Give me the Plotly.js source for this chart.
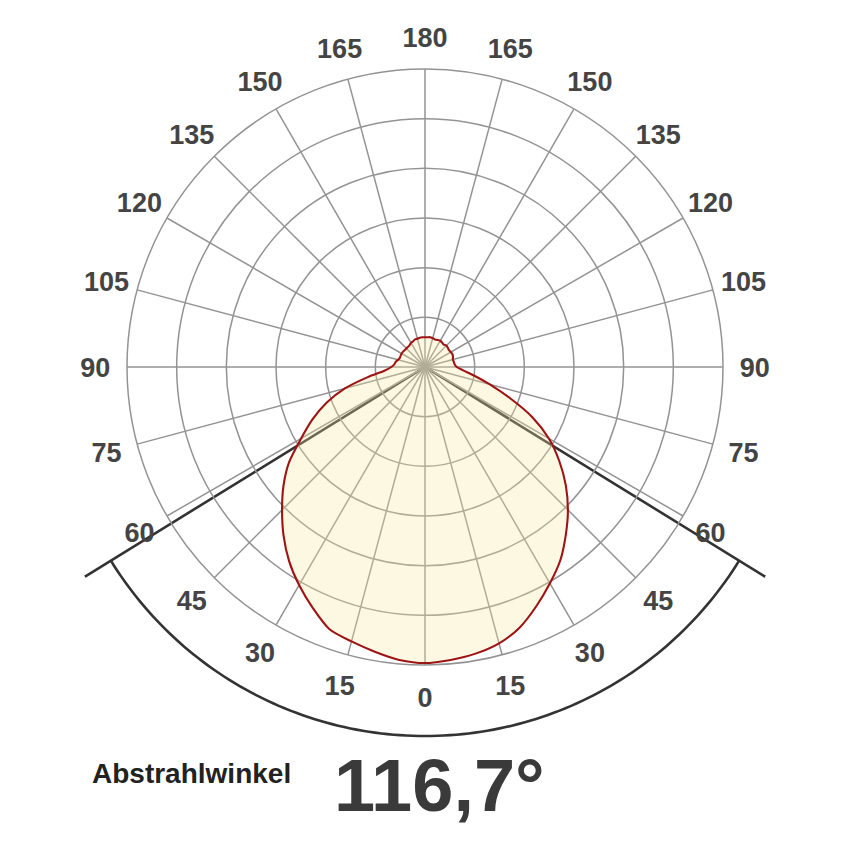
<!DOCTYPE html>
<html>
<head>
<meta charset="utf-8">
<script src="https://cdn.plot.ly/plotly-3.0.1.min.js"></script>
<style>html,body{margin:0;padding:0;background:#fff;}#chart{width:850px;height:850px;}</style>
</head>
<body>
<div id="chart"></div>
<script>
// Luminous intensity curve (angle from nadir, counterclockwise; arbitrary units)
const curveAngles = [0,5,10,15,20,25,30,35,40,45,50,55,60,65,70,75,80,85,90,95,100,105,110,115,120,125,130,135,140,145,150,155,160,165,170,175,180,
  185,190,195,200,205,210,215,220,225,230,235,240,245,250,255,260,265,270,275,280,285,290,295,300,305,310,315,320,325,330,335,340,345,350,355,360];
const curveValues = [596,592,586,576,558,531,503,475,441,407,370,330,288,238,181,135,101,77,64,60,59,58,60,61,60,59,60,61,59,60,61,60,59,60,61,60,60,
  60,60,59,59,57,56,54,53,53,53,54,54,54,54,56,60,62,68,81,117,167,211,250,288,334,372,407,443,477,507,535,562,572,582,592,596];

// Angular tick positions and labels
const tickAngles = [0,15,30,45,60,75,90,105,120,135,150,165,180,195,210,225,240,255,270,285,300,315,330,345];
const tickLabels = ["0","15","30","45","60","75","90","105","120","135","150","165","180","165","150","135","120","105","90","75","60","45","30","15"];

// Beam angle
const beamAngle = 116.7;
const beamLabel = "Abstrahlwinkel";

// scale settings (radial units)
const radialMax = 600;
const beamLineR = 805;   // radial length of the beam limit lines
const beamArcR = 743;    // radius of the beam arc
const labelR = 664;      // radius at which angle labels sit

// geometry of the subplots (pixels)
const W = 850, H = 850, cx = 425, cy = 367;
const R1 = 298;                         // main grid radius
const unitPx = R1 / radialMax;
const R2 = beamLineR * unitPx;          // beam subplot radius
const cy3 = cy + 3, R3 = cy3 - 1;       // label subplot
const sec0 = 165, sec1 = 375;
const topFrac = Math.sin(sec0 * Math.PI / 180);

const half = beamAngle / 2;
const arcTheta = [], arcR = [];
for (let a = -half; a <= half + 1e-9; a += half / 60) { arcTheta.push((a + 360) % 360); arcR.push(beamArcR); }

// subplot 'polar' = beam sector (drawn first, below), 'polar2' = grid + curve, 'polar3' = labels
const beamLines = {
  type: 'scatterpolar', subplot: 'polar', mode: 'lines',
  r: [beamLineR, 0, beamLineR], theta: [360 - half, 0, half],
  line: {color: '#333333', width: 2.6}, hoverinfo: 'skip'
};
const beamArc = {
  type: 'scatterpolar', subplot: 'polar', mode: 'lines',
  r: arcR, theta: arcTheta,
  line: {color: '#333333', width: 2.6}, hoverinfo: 'skip'
};
const curve = {
  type: 'scatterpolar', subplot: 'polar2', mode: 'lines', fill: 'toself',
  r: curveValues, theta: curveAngles,
  fillcolor: 'rgba(245,232,160,0.3)',
  line: {color: '#9e1414', width: 2.1, shape: 'spline', smoothing: 0.8}
};
const labels = {
  type: 'scatterpolar', subplot: 'polar3', mode: 'text',
  r: tickAngles.map(() => labelR), theta: tickAngles, text: tickLabels,
  textposition: 'middle center',
  textfont: {family: 'Liberation Sans, Arial, sans-serif', size: 27, color: '#444444', weight: 'bold'},
  hoverinfo: 'skip'
};

const hiddenRadial = (max) => ({range: [0, max], showticklabels: false, ticks: '', showline: false, showgrid: false});
const hiddenAngular = {rotation: -90, direction: 'counterclockwise', showticklabels: false, ticks: '', showline: false, showgrid: false};

const layout = {
  width: W, height: H,
  margin: {l: 0, r: 0, t: 0, b: 0},
  paper_bgcolor: '#ffffff',
  showlegend: false,
  polar: {
    domain: {x: [(cx - R2) / W, (cx + R2) / W], y: [1 - (cy + R2) / H, 1 - (cy - R2 * topFrac) / H]},
    sector: [sec0, sec1],
    bgcolor: 'rgba(0,0,0,0)',
    radialaxis: hiddenRadial(beamLineR),
    angularaxis: hiddenAngular
  },
  polar2: {
    domain: {x: [(cx - R1) / W, (cx + R1) / W], y: [1 - (cy + R1) / H, 1 - (cy - R1) / H]},
    bgcolor: 'rgba(0,0,0,0)',
    radialaxis: {range: [0, radialMax], dtick: 100, tick0: 0, showticklabels: false, ticks: '',
      showline: false, gridcolor: '#939393', gridwidth: 1.5},
    angularaxis: {rotation: -90, direction: 'counterclockwise', tickmode: 'array',
      tickvals: tickAngles, showticklabels: false, ticks: '',
      showline: true, linecolor: '#939393', linewidth: 1.5,
      showgrid: true, gridcolor: '#939393', gridwidth: 1.5}
  },
  polar3: {
    domain: {x: [(cx - R3) / W, (cx + R3) / W], y: [1 - (cy3 + R3) / H, 1 - (cy3 - R3) / H]},
    bgcolor: 'rgba(0,0,0,0)',
    radialaxis: hiddenRadial(radialMax * R3 / R1),
    angularaxis: hiddenAngular
  },
  annotations: [
    {xref: 'paper', yref: 'paper', x: 90 / W, y: 1 - 773 / H, xanchor: 'left', yanchor: 'middle',
      text: beamLabel, showarrow: false,
      font: {family: 'Liberation Sans, Arial, sans-serif', size: 28, color: '#222222', weight: 'bold'}},
    {xref: 'paper', yref: 'paper', x: 439 / W, y: 1 - 785 / H, xanchor: 'center', yanchor: 'middle',
      text: beamAngle.toFixed(1).replace('.', ',') + '°', showarrow: false,
      font: {family: 'Liberation Sans, Arial, sans-serif', size: 74, color: '#3a3a3a', weight: 'bold'}}
  ]
};

Plotly.newPlot('chart', [beamLines, beamArc, curve, labels], layout, {displayModeBar: false, staticPlot: true});
</script>
</body>
</html>
